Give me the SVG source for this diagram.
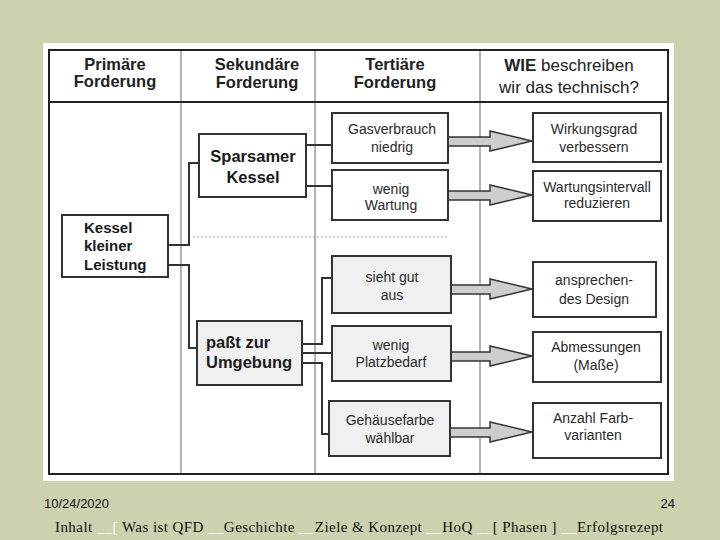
<svg xmlns="http://www.w3.org/2000/svg" width="720" height="540" viewBox="0 0 720 540">
<defs>
<style>
.bg{fill:#cbd2ad}
.hd{font-family:"Liberation Sans",Arial,sans-serif;font-size:16.5px;font-weight:bold;fill:#222;text-anchor:middle}
.hn{font-family:"Liberation Sans",Arial,sans-serif;font-size:17px;fill:#222;text-anchor:middle}
.col{stroke:#b4b4b4;stroke-width:2;fill:none}
.box{fill:#ffffff;stroke:#333;stroke-width:2}
.gbox{fill:#f0f0f0;stroke:#333;stroke-width:2}
.bt{font-family:"Liberation Sans",Arial,sans-serif;font-weight:bold;fill:#1a1a1a}
.nt{font-family:"Liberation Sans",Arial,sans-serif;font-size:14px;fill:#2a2a2a;text-anchor:middle}
.con{stroke:#333;stroke-width:2;fill:none}
.arr{fill:#cdcdcd;stroke:#333;stroke-width:1.5;stroke-linejoin:miter}
.ft{font-family:"Liberation Serif","Times New Roman",serif;font-size:15px;fill:#111}
.fs{font-family:"Liberation Sans",Arial,sans-serif;font-size:13px;fill:#111}
</style>
</defs>
<rect class="bg" x="0" y="0" width="720" height="540"/>
<rect x="43" y="43" width="631" height="438" fill="#ffffff"/>
<g id="table">
<line class="col" x1="181" y1="50" x2="181" y2="474"/>
<line class="col" x1="315" y1="50" x2="315" y2="474"/>
<line class="col" x1="480" y1="50" x2="480" y2="474"/>
<rect x="49" y="50" width="619" height="424" fill="none" stroke="#222" stroke-width="2"/>
<line x1="49" y1="102" x2="668" y2="102" stroke="#222" stroke-width="2"/>
<line x1="193" y1="237" x2="448" y2="237" stroke="#aaa" stroke-width="1.5" stroke-dasharray="1.5,2.5"/>
<text class="hd" x="115" y="70">Primäre</text>
<text class="hd" x="115" y="87">Forderung</text>
<text class="hd" x="257" y="70">Sekundäre</text>
<text class="hd" x="257" y="88">Forderung</text>
<text class="hd" x="395" y="70">Tertiäre</text>
<text class="hd" x="395" y="88">Forderung</text>
<text class="hn" x="569" y="71"><tspan font-weight="bold">WIE</tspan> beschreiben</text>
<text class="hn" x="569" y="93">wir das technisch?</text>
</g>
<g id="connectors">
<polyline class="con" points="168,245 189,245 189,163 199,163"/>
<polyline class="con" points="168,265 189,265 189,348 197,348"/>
<line class="con" x1="306" y1="145" x2="332" y2="145"/>
<line class="con" x1="306" y1="186" x2="332" y2="186"/>
<polyline class="con" points="302,344 322,344 322,278 332,278"/>
<line class="con" x1="302" y1="353" x2="332" y2="353"/>
<polyline class="con" points="302,363 322,363 322,434 329,434"/>
<polygon class="arr" points="448,137 490,137 490,131 532,141 490,151 490,146 448,146"/>
<polygon class="arr" points="448,191 490,191 490,185 532,195 490,205 490,200 448,200"/>
<polygon class="arr" points="451,285 490,285 490,279 532,289 490,299 490,294 451,294"/>
<polygon class="arr" points="451,352 490,352 490,346 532,356 490,366 490,361 451,361"/>
<polygon class="arr" points="450,428 490,428 490,422 532,432 490,442 490,437 450,437"/>
</g>
<g id="n-kessel">
<rect class="box" x="62" y="215" width="106" height="62"/>
<text class="bt" font-size="15" x="84" y="233">Kessel</text>
<text class="bt" font-size="15" x="84" y="251">kleiner</text>
<text class="bt" font-size="15" x="84" y="270">Leistung</text>
</g>
<g id="n-sparsamer">
<rect class="box" x="199" y="134" width="107" height="63"/>
<text class="bt" font-size="16.5" x="253" y="162" text-anchor="middle">Sparsamer</text>
<text class="bt" font-size="16.5" x="253" y="183" text-anchor="middle">Kessel</text>
</g>
<g id="n-passt">
<rect class="gbox" x="197" y="321" width="105" height="64"/>
<text class="bt" font-size="16.5" x="206" y="348">paßt zur</text>
<text class="bt" font-size="16.5" x="206" y="368">Umgebung</text>
</g>
<g id="n-gas">
<rect class="box" x="332" y="113" width="116" height="50"/>
<text class="nt" x="392" y="134">Gasverbrauch</text>
<text class="nt" x="392" y="152">niedrig</text>
</g>
<g id="n-wartung">
<rect class="box" x="332" y="170" width="116" height="50"/>
<text class="nt" x="391" y="194">wenig</text>
<text class="nt" x="391" y="210">Wartung</text>
</g>
<g id="n-sieht">
<rect class="gbox" x="332" y="256" width="119" height="57"/>
<text class="nt" x="392" y="282">sieht gut</text>
<text class="nt" x="392" y="300">aus</text>
</g>
<g id="n-platz">
<rect class="gbox" x="332" y="326" width="119" height="55"/>
<text class="nt" x="391" y="350">wenig</text>
<text class="nt" x="391" y="367">Platzbedarf</text>
</g>
<g id="n-farbe">
<rect class="gbox" x="329" y="401" width="121" height="55"/>
<text class="nt" x="390" y="425">Gehäusefarbe</text>
<text class="nt" x="390" y="443">wählbar</text>
</g>
<g id="n-wirkung">
<rect class="box" x="533" y="113" width="128" height="49"/>
<text class="nt" x="594" y="134">Wirkungsgrad</text>
<text class="nt" x="594" y="152">verbessern</text>
</g>
<g id="n-intervall">
<rect class="box" x="533" y="171" width="128" height="50"/>
<text class="nt" x="597" y="192">Wartungsintervall</text>
<text class="nt" x="597" y="208">reduzieren</text>
</g>
<g id="n-design">
<rect class="box" x="533" y="262" width="123" height="55"/>
<text class="nt" x="594" y="285">ansprechen-</text>
<text class="nt" x="594" y="304">des Design</text>
</g>
<g id="n-mass">
<rect class="box" x="533" y="332" width="128" height="50"/>
<text class="nt" x="596" y="352">Abmessungen</text>
<text class="nt" x="596" y="370">(Maße)</text>
</g>
<g id="n-farbvar">
<rect class="box" x="533" y="403" width="128" height="55"/>
<text class="nt" x="593" y="423">Anzahl Farb-</text>
<text class="nt" x="593" y="440">varianten</text>
</g>
<g id="footer">
<text class="fs" x="44" y="508">10/24/2020</text>
<text class="fs" x="675" y="508" text-anchor="end">24</text>
<text class="ft" x="55" y="532" textLength="608" lengthAdjust="spacing">Inhalt <tspan fill="#ffffff">__[</tspan> Was ist QFD <tspan fill="#ffffff">__</tspan>Geschichte <tspan fill="#ffffff">__</tspan>Ziele &amp; Konzept <tspan fill="#ffffff">__</tspan>HoQ <tspan fill="#ffffff">__</tspan>[ Phasen ] <tspan fill="#ffffff">__</tspan>Erfolgsrezept</text>
</g>
</svg>
